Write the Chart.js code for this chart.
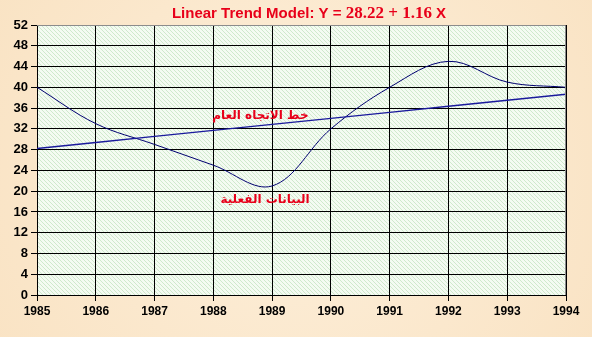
<!DOCTYPE html>
<html>
<head>
<meta charset="utf-8">
<script src="https://cdn.jsdelivr.net/npm/chart.js@4/dist/chart.umd.min.js"></script>
<style>
    html, body { margin: 0; padding: 0; background: #fbe7ca; }
    #wrap { width: 592px; height: 337px; position: relative; }
</style>
</head>
<body>
<div id="wrap"><canvas id="trend"></canvas></div>
<script>
// Years on the x axis and the yearly values
const years = [1985, 1986, 1987, 1988, 1989, 1990, 1991, 1992, 1993, 1994];
const actual = [40, 33, 29, 25, 21, 32, 40, 45, 41, 40];
// Fitted line Y = 28.22 + 1.16 X, one value per year
const trend = [28.22, 29.38, 30.54, 31.70, 32.86, 34.02, 35.18, 36.34, 37.50, 38.66];

const yMin = 0, yMax = 52, yStep = 4;

const trendLabel = "خط الاتجاه العام";
const actualLabel = "البيانات الفعلية";

// Diagonal hatch for the plot background
function makeHatch(ctx) {
    const c = document.createElement("canvas");
    c.width = 4; c.height = 4;
    const p = c.getContext("2d");
    p.fillStyle = "#f4fbf2";
    p.fillRect(0, 0, 4, 4);
    p.fillStyle = "#cfe9cc";
    for (let i = 0; i < 4; i++) p.fillRect(i, i, 1, 1);
    return ctx.createPattern(c, "repeat");
}

const backdrop = {
    id: "backdrop",
    beforeDraw(chart) {
        const { ctx, chartArea: a } = chart;
        ctx.save();
        const g = ctx.createRadialGradient(300, 170, 40, 300, 170, 380);
        g.addColorStop(0, "#fdeed8");
        g.addColorStop(1, "#f9e2c2");
        ctx.fillStyle = g;
        ctx.fillRect(0, 0, chart.width, chart.height);
        ctx.fillStyle = makeHatch(ctx);
        ctx.fillRect(a.left, a.top, a.right - a.left, a.bottom - a.top);
        ctx.restore();
    },
    afterDraw(chart) {
        const { ctx, chartArea: a, scales: { x, y } } = chart;
        ctx.save();
        // grey frame on top and right
        ctx.strokeStyle = "#8c8c8c";
        ctx.lineWidth = 1;
        ctx.beginPath();
        ctx.moveTo(a.left, a.top + 0.5);
        ctx.lineTo(a.right - 0.5, a.top + 0.5);
        ctx.lineTo(a.right - 0.5, a.bottom);
        ctx.stroke();

        // title, mixed fonts
        const parts = [
            ["Linear Trend Model: Y = ", "bold 15px 'Liberation Sans', Arial, sans-serif"],
            ["28.22 + 1.16", "bold 17px 'Liberation Serif', 'DejaVu Serif', serif"],
            [" X", "bold 15px 'Liberation Sans', Arial, sans-serif"]
        ];
        let total = 0;
        parts.forEach(([t, f]) => { ctx.font = f; total += ctx.measureText(t).width; });
        let tx = 309 - total / 2;
        ctx.fillStyle = "#e8001a";
        ctx.textBaseline = "alphabetic";
        ctx.textAlign = "left";
        parts.forEach(([t, f]) => {
            ctx.font = f;
            ctx.fillText(t, tx, 18);
            tx += ctx.measureText(t).width;
        });

        // series captions inside the plot
        ctx.font = "bold 12px 'DejaVu Sans', sans-serif";
        ctx.textAlign = "center";
        ctx.textBaseline = "middle";
        ctx.fillText(trendLabel, x.getPixelForValue(1988.8), y.getPixelForValue(34.5));
        ctx.fillText(actualLabel, x.getPixelForValue(1988.88), y.getPixelForValue(18.3));
        ctx.restore();
    }
};

const ctx = document.getElementById("trend").getContext("2d");

new Chart(ctx, {
    type: "line",
    data: {
        datasets: [
            {
                label: "trend",
                data: years.map((yr, i) => ({ x: yr, y: trend[i] })),
                borderColor: "#1a1a9c",
                borderWidth: 1.4,
                pointRadius: 0,
                tension: 0,
                fill: false
            },
            {
                label: "actual",
                data: years.map((yr, i) => ({ x: yr, y: actual[i] })),
                borderColor: "#000070",
                borderWidth: 1,
                pointRadius: 0,
                tension: 0.36,
                fill: false
            }
        ]
    },
    options: {
        responsive: true,
        maintainAspectRatio: false,
        animation: false,
        layout: { padding: { left: 0, top: 25, right: 26, bottom: 0 } },
        plugins: {
            legend: { display: false },
            tooltip: { enabled: false }
        },
        scales: {
            x: {
                type: "linear",
                min: years[0],
                max: years[years.length - 1],
                afterFit(s) { s.height = 42; },
                grid: { color: "#000", lineWidth: 1, tickLength: 6, drawOnChartArea: true },
                border: { color: "#000", width: 1 },
                ticks: {
                    stepSize: 1,
                    padding: 3,
                    color: "#000",
                    font: { family: "'Liberation Sans', Arial, sans-serif", weight: "bold", size: 12 },
                    callback: v => String(v),
                    maxRotation: 0
                }
            },
            y: {
                min: yMin,
                max: yMax,
                afterFit(s) { s.width = 37; },
                grid: { color: "#000", lineWidth: 1, tickLength: 6 },
                border: { color: "#000", width: 1 },
                ticks: {
                    stepSize: yStep,
                    padding: 3,
                    color: "#000",
                    font: { family: "'Liberation Sans', Arial, sans-serif", weight: "bold", size: 13 }
                }
            }
        }
    },
    plugins: [backdrop]
});
</script>
</body>
</html>
